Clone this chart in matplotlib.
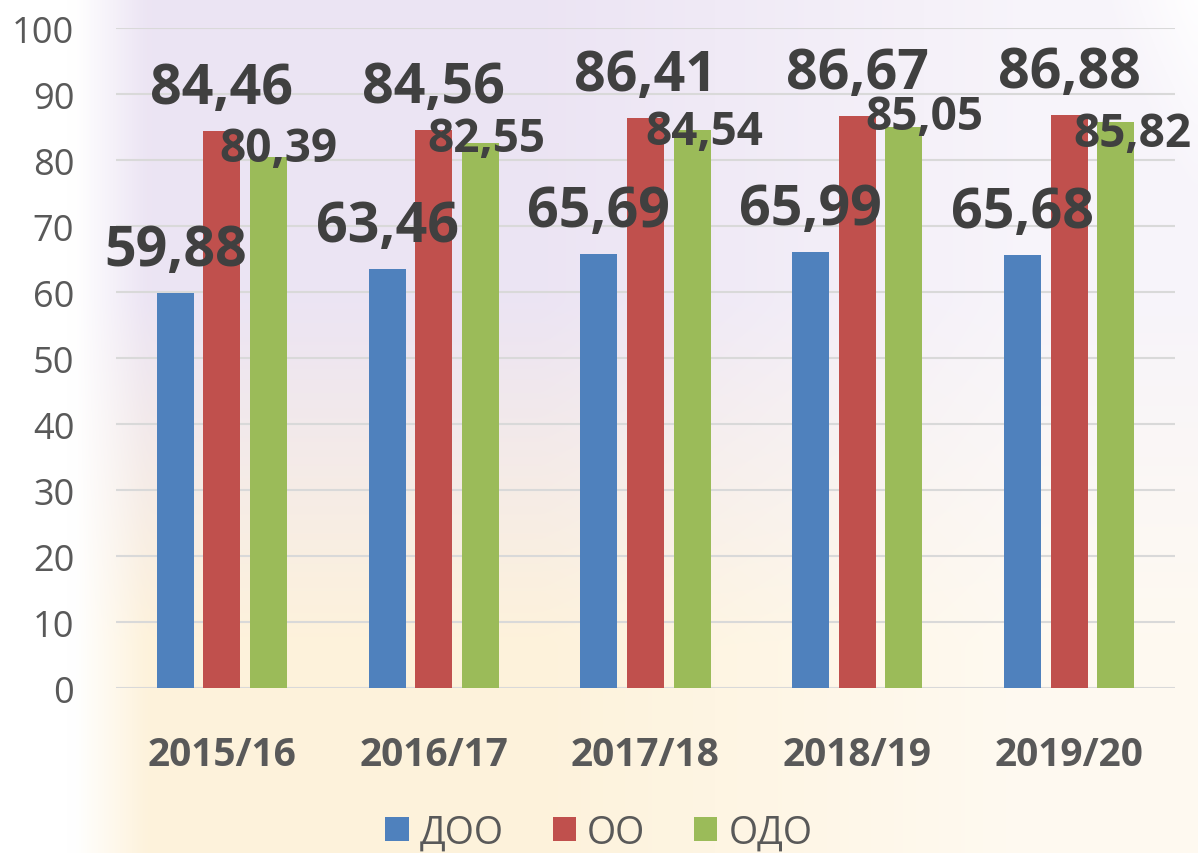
import numpy as np
import matplotlib
matplotlib.use('Agg')
import matplotlib.pyplot as plt

years = ['2015/16', '2016/17', '2017/18', '2018/19', '2019/20']
doo = [59.88, 63.46, 65.69, 65.99, 65.68]
oo = [84.46, 84.56, 86.41, 86.67, 86.88]
odo = [80.39, 82.55, 84.54, 85.05, 85.82]

# the ОДО labels were moved by hand in the original, so they sit a bit off
odo_dx = [10, 6, 12, 20, 17]
odo_dy = [4, 8, 14, 2, 24]

plt.rcParams['font.family'] = ['Open Sans', 'DejaVu Sans']

fig = plt.figure(figsize=(11.98, 8.54), dpi=100)

# pastel slide background
bg = fig.add_axes([0, 0, 1, 1], zorder=-10)
h, w = 120, 170
yy, xx = np.mgrid[0:h, 0:w]
ty = np.clip((yy / h - 0.35) / 0.4, 0, 1)[..., None]
top = np.array([0.925, 0.895, 0.955])
bottom = np.array([0.995, 0.950, 0.860])
img = top * (1 - ty) + bottom * ty
white = np.clip(1 - (xx / w - 0.06) / 0.06, 0, 1)
white = np.maximum(white, np.clip((xx / w - 0.8) / 0.2, 0, 1) * np.clip(1 - yy / h / 0.6, 0, 1))
white = np.maximum(white, np.clip((xx / w - 0.45) / 0.4, 0, 1) * 0.6)
img = img * (1 - white[..., None]) + white[..., None]
bg.imshow(img, aspect='auto', extent=[0, 1, 0, 1], interpolation='bicubic')
bg.axis('off')

ax = fig.add_axes([0.0968, 0.1932, 0.884, 0.7728])
ax.set_facecolor('none')

x = np.arange(len(years))
off = 0.22
wd = 0.175
b1 = ax.bar(x - off, doo, wd, color='#4f81bd', label='ДОО', zorder=3)
b2 = ax.bar(x, oo, wd, color='#c0504d', label='ОО', zorder=3)
b3 = ax.bar(x + off, odo, wd, color='#9bbb59', label='ОДО', zorder=3)

for i in range(len(years)):
    ax.annotate('{:.2f}'.format(doo[i]).replace('.', ','), (x[i] - off, doo[i]),
                xytext=(0, 28), textcoords='offset pixels', ha='center', va='baseline',
                fontsize=40, fontweight='bold', color='#404040', zorder=5)
    ax.annotate('{:.2f}'.format(oo[i]).replace('.', ','), (x[i], oo[i]),
                xytext=(0, 28), textcoords='offset pixels', ha='center', va='baseline',
                fontsize=40, fontweight='bold', color='#404040', zorder=5)
    ax.annotate('{:.2f}'.format(odo[i]).replace('.', ','), (x[i] + off, odo[i]),
                xytext=(odo_dx[i], -odo_dy[i]), textcoords='offset pixels', ha='center',
                va='baseline', fontsize=33, fontweight='bold', color='#404040', zorder=5,
                annotation_clip=False)

ax.set_xlim(-0.5, len(years) - 0.5)
ax.set_ylim(0, 100)
ax.set_yticks(range(0, 101, 10))
ax.set_xticks(x)
ax.set_xticklabels(years, fontsize=28, fontweight='bold', color='#595959')
ax.tick_params(axis='y', labelsize=26, labelcolor='#595959', length=0, pad=30)
ax.tick_params(axis='x', length=0, pad=34)
ax.yaxis.grid(True, color='#d9d9d9', linewidth=1.5, zorder=0)
ax.set_axisbelow(True)
for s in ax.spines.values():
    s.set_visible(False)

fig.legend(handles=[b1, b2, b3], loc='center', bbox_to_anchor=(0.5, 0.024), ncol=3,
           frameon=False, fontsize=27, labelcolor='#595959', handlelength=0.62,
           handleheight=0.62, handletextpad=0.3, columnspacing=1.3)

fig.savefig('out.png', dpi=100)
